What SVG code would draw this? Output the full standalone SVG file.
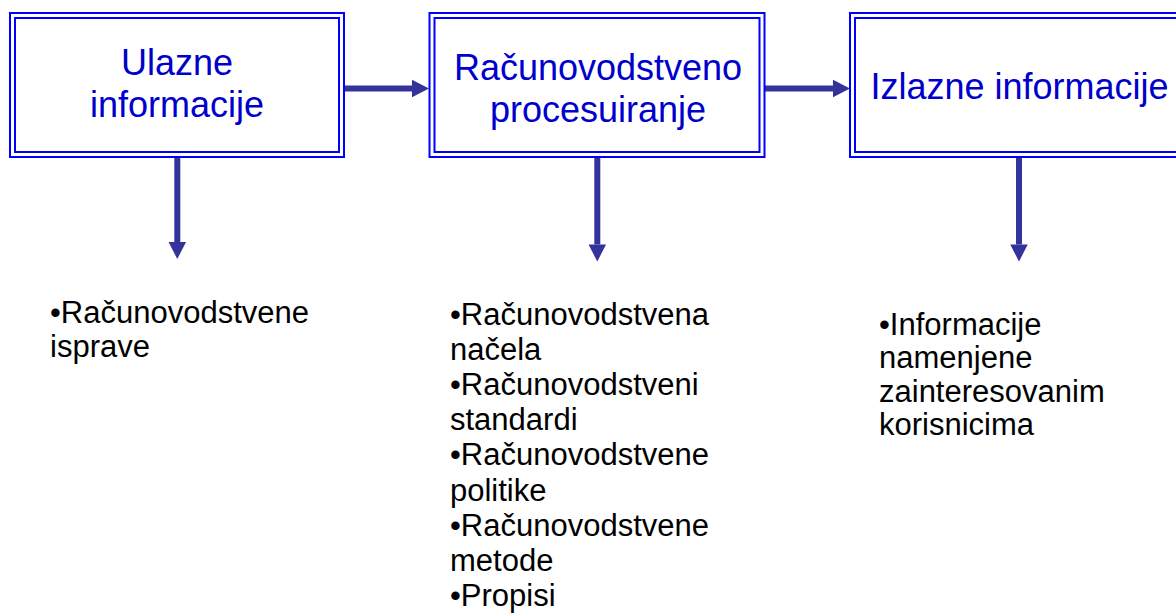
<svg xmlns="http://www.w3.org/2000/svg" width="1176" height="613" viewBox="0 0 1176 613">
<style>
  .frame{fill:none;stroke:#0000FF;stroke-width:2}
  .title{font-family:"Liberation Sans",Arial,sans-serif;font-size:36px;fill:#0000CC;text-anchor:middle}
  .list{font-family:"Liberation Sans",Arial,sans-serif;font-size:31px;fill:#000000}
  .conn{stroke:#333399;stroke-width:6;fill:none;marker-end:url(#head)}
</style>
<defs>
  <marker id="head" markerUnits="userSpaceOnUse" markerWidth="18" markerHeight="18" refX="0" refY="8.75" orient="auto" overflow="visible">
    <path d="M0,0 L17,8.75 L0,17.5 z" fill="#333399"/>
  </marker>
</defs>
<rect width="1176" height="613" fill="#FFFFFF"/>
<g id="connectors">
  <line class="conn" x1="344" y1="88.5" x2="412" y2="88.5"/>
  <line class="conn" x1="764" y1="88.5" x2="833" y2="88.5"/>
  <line class="conn" x1="177.3" y1="157" x2="177.3" y2="242"/>
  <line class="conn" x1="597.3" y1="157" x2="597.3" y2="244.5"/>
  <line class="conn" x1="1019" y1="157" x2="1019" y2="244.5"/>
</g>
<g id="node-ulazne">
  <rect class="frame" x="10" y="13" width="334" height="144"/>
  <rect class="frame" x="15" y="18" width="324" height="134"/>
  <text class="title" x="177" y="75">Ulazne</text>
  <text class="title" x="177" y="117">informacije</text>
</g>
<g id="node-procesuiranje">
  <rect class="frame" x="429.5" y="13" width="335" height="144"/>
  <rect class="frame" x="434.5" y="18" width="325" height="134"/>
  <text class="title" x="598" y="80">Računovodstveno</text>
  <text class="title" x="598" y="122">procesuiranje</text>
</g>
<g id="node-izlazne">
  <rect class="frame" x="850" y="13" width="336" height="144"/>
  <rect class="frame" x="855" y="18" width="326" height="134"/>
  <text class="title" x="1019.5" y="99">Izlazne informacije</text>
</g>
<g id="list-ulazne">
  <text class="list" x="50" y="323">•Računovodstvene</text>
  <text class="list" x="50" y="357">isprave</text>
</g>
<g id="list-procesuiranje">
  <text class="list" x="450" y="324.5">•Računovodstvena</text>
  <text class="list" x="450" y="359.7">načela</text>
  <text class="list" x="450" y="394.9">•Računovodstveni</text>
  <text class="list" x="450" y="430.1">standardi</text>
  <text class="list" x="450" y="465.3">•Računovodstvene</text>
  <text class="list" x="450" y="500.5">politike</text>
  <text class="list" x="450" y="535.7">•Računovodstvene</text>
  <text class="list" x="450" y="570.9">metode</text>
  <text class="list" x="450" y="606">•Propisi</text>
</g>
<g id="list-izlazne">
  <text class="list" x="879" y="335">•Informacije</text>
  <text class="list" x="879" y="368.4">namenjene</text>
  <text class="list" x="879" y="401.8">zainteresovanim</text>
  <text class="list" x="879" y="435.2">korisnicima</text>
</g>
</svg>
